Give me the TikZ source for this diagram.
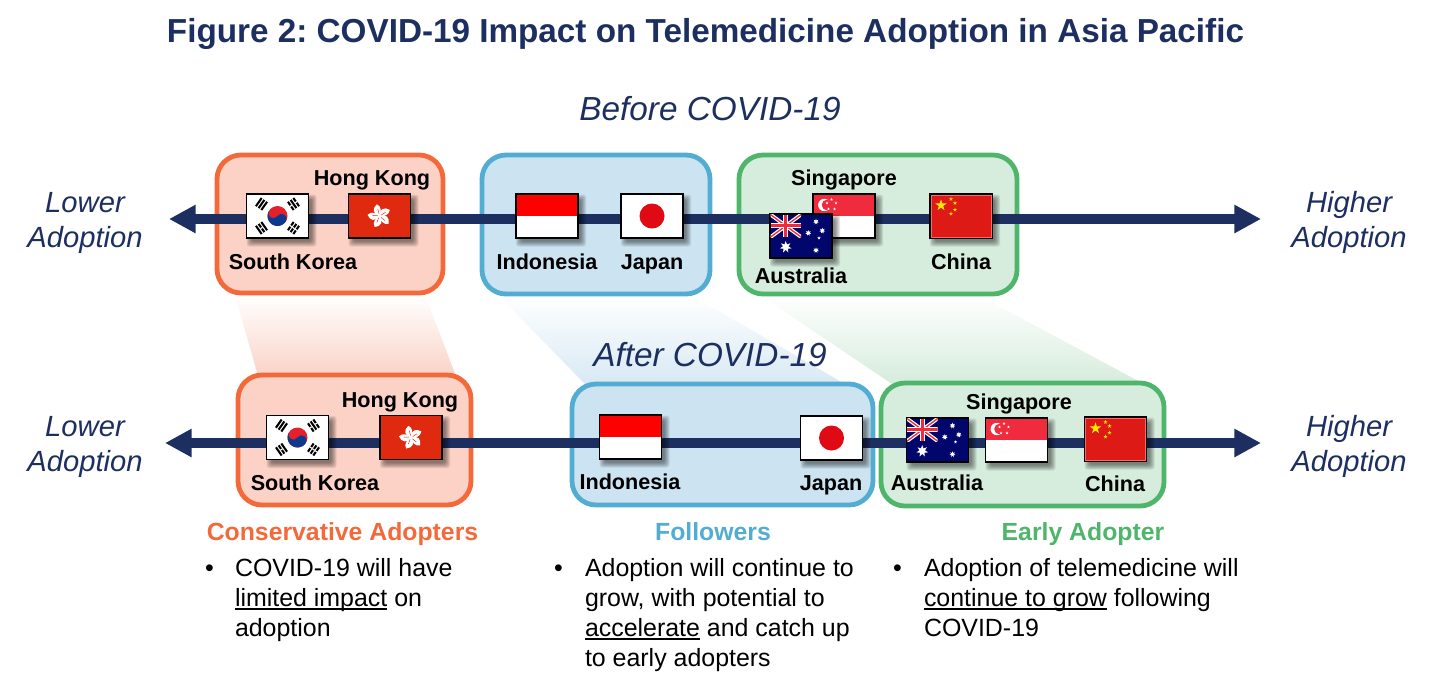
\documentclass[tikz,border=0pt]{standalone}
\usepackage{fontspec}
\setmainfont{Liberation Sans}
\usetikzlibrary{arrows.meta}
\frenchspacing
\definecolor{navy}{HTML}{1C2F60}
\definecolor{orangeB}{HTML}{F4693A}
\definecolor{orangeF}{HTML}{FCD2C6}
\definecolor{orangeG}{HTML}{FAD3C7}
\definecolor{blueB}{HTML}{53ADD2}
\definecolor{blueF}{HTML}{CCE4F1}
\definecolor{blueG}{HTML}{D8E9F4}
\definecolor{greenB}{HTML}{4FB56B}
\definecolor{greenF}{HTML}{D6ECDC}
\definecolor{greenG}{HTML}{D6ECDC}
\definecolor{flagRed}{HTML}{DE1A17}
\definecolor{hkRed}{HTML}{E02A10}
\definecolor{sgRed}{HTML}{EF2B3D}
\definecolor{idRed}{HTML}{FF0000}
\definecolor{jpRed}{HTML}{E00A14}
\definecolor{krRed}{HTML}{E3202C}
\definecolor{krBlue}{HTML}{0B3A8C}
\definecolor{auNavy}{HTML}{00066B}
\definecolor{starYellow}{HTML}{FFE600}
\tikzset{
  x=0.75pt,y=-0.75pt,
  txt/.style={inner sep=0pt,outer sep=0pt,anchor=base,text=black},
  titletxt/.style={txt,text=navy,font=\fontsize{24.95}{30}\selectfont\bfseries},
  periodtxt/.style={txt,text=navy,font=\fontsize{25}{30}\selectfont\itshape},
  axistxt/.style={txt,text=navy,font=\fontsize{21.9}{26}\selectfont\itshape},
  flagtxt/.style={txt,font=\fontsize{16.2}{20}\selectfont\bfseries},
  headtxt/.style={txt,font=\fontsize{18.6}{22}\selectfont\bfseries},
  bodytxt/.style={txt,anchor=base west,font=\fontsize{18.7}{22}\selectfont},
  groupbox/.style={draw,line width=3.6pt,rounded corners=18pt,inner sep=0pt},
  flagframe/.style={draw=black,line width=.85pt,minimum width=46.5pt,minimum height=33pt,inner sep=0pt,outer sep=0pt},
  axisline/.style={navy,line width=6.8pt,{Triangle[length=20pt,width=20pt]}-{Triangle[length=20pt,width=20pt]}},
}
% rule close under the baseline, crossing descenders
\newcommand{\ulined}[1]{\setbox0=\hbox{#1}\rlap{\rule[-2.7pt]{\wd0}{1.3pt}}\box0\relax}
% soft drop shadow under a flag, centred on (#1,#2)
\newcommand{\flagshadow}[2]{%
  \foreach \g in {4,3,2,1,0,-1}{%
    \fill[black,opacity=0.09,rounded corners=2pt] (#1+4-31-\g,#2+4.5-22-\g) rectangle (#1+4+31+\g,#2+4.5+22+\g);
  }%
}
% five pointed star in flag-local coordinates
\newcommand{\fivestar}[4]{%
  \fill[#4,shift={(#1,#2)},scale=#3] (-90:1) -- (-54:.382) -- (-18:1) -- (18:.382) -- (54:1) -- (90:.382) -- (126:1) -- (162:.382) -- (198:1) -- (234:.382) -- cycle;%
}
% seven pointed star of the Australian flag
\newcommand{\sevenstar}[4]{%
  \fill[#4,shift={(#1,#2)},scale=#3] (-90:1) -- (-64.3:.47) -- (-38.6:1) -- (-12.9:.47) -- (12.9:1) -- (38.6:.47) -- (64.3:1) -- (90:.47) -- (115.7:1) -- (141.4:.47) -- (167.1:1) -- (192.9:.47) -- (218.6:1) -- (244.3:.47) -- cycle;%
}
% broken or solid trigram bar
\newcommand{\triBar}[2]{%
  \draw[black,line width=1.55pt] (-5,#1) -- (5,#1);%
  \ifnum#2=1 \draw[white,line width=1.8pt] (-.6,#1) -- (.6,#1);\fi
}
\newcommand{\trigram}[6]{%
  \begin{scope}[shift={(#1,#2)},rotate=#3]
    \triBar{-3.3}{#4}\triBar{0}{#5}\triBar{3.3}{#6}
  \end{scope}%
}
\newcommand{\flagKR}[3]{%
  \flagshadow{#2}{#3}
  \node[flagframe,fill=white] (#1) at (#2,#3) {};
  \begin{scope}[shift={(#1.center)}]
    \fill[krRed] (0,0) circle (10);
    \begin{scope}[rotate=-33.7]
      \fill[krBlue] (-10,0) arc[start angle=180,end angle=0,radius=10]
        arc[start angle=0,end angle=-180,radius=5]
        arc[start angle=0,end angle=180,radius=5] -- cycle;
    \end{scope}
    \trigram{-16}{-12}{55}{0}{0}{0}
    \trigram{16}{-12}{-55}{1}{0}{1}
    \trigram{-16}{12}{-55}{0}{1}{0}
    \trigram{16}{12}{55}{1}{1}{1}
  \end{scope}%
}
\newcommand{\flagHK}[3]{%
  \flagshadow{#2}{#3}
  \node[flagframe,fill=hkRed] (#1) at (#2,#3) {};
  \begin{scope}[shift={(#1.center)}]
    \foreach \a in {0,72,144,216,288}{
      \begin{scope}[rotate=\a+10]
        \fill[white] (0,0) .. controls (-6.5,-3) and (-6,-9) .. (-.5,-12) .. controls (3.5,-9) and (3,-4) .. (0,0);
        \draw[hkRed,line width=.35pt] (0,-2) -- (-.5,-7);
      \end{scope}
    }
  \end{scope}%
}
\newcommand{\flagID}[3]{%
  \flagshadow{#2}{#3}
  \node[flagframe,fill=white] (#1) at (#2,#3) {};
  \begin{scope}[shift={(#1.center)}]
    \fill[idRed] (-30.4,-21.4) rectangle (30.4,0);
  \end{scope}
  \draw[black,line width=.85pt] (#1.south west) rectangle (#1.north east);%
}
\newcommand{\flagJP}[3]{%
  \flagshadow{#2}{#3}
  \node[flagframe,fill=white] (#1) at (#2,#3) {};
  \fill[jpRed] (#1.center) circle (12.5);%
}
\newcommand{\flagSG}[3]{%
  \flagshadow{#2}{#3}
  \node[flagframe,fill=white] (#1) at (#2,#3) {};
  \begin{scope}[shift={(#1.center)}]
    \fill[sgRed] (-30.4,-21.4) rectangle (30.4,0);
    \fill[white] (-19.7,-11) circle (6.2);
    \fill[sgRed] (-17,-11) circle (5.3);
    \fivestar{-12.5}{-16.5}{1.6}{white}
    \fivestar{-8}{-13}{1.6}{white}
    \fivestar{-9.5}{-7}{1.6}{white}
    \fivestar{-15.5}{-7}{1.6}{white}
    \fivestar{-17}{-13}{1.6}{white}
  \end{scope}
  \draw[black,line width=.85pt] (#1.south west) rectangle (#1.north east);%
}
\newcommand{\flagAU}[3]{%
  \flagshadow{#2}{#3}
  \node[flagframe,fill=auNavy] (#1) at (#2,#3) {};
  \begin{scope}[shift={(#1.center)}]
    \begin{scope}
      \clip (-30.4,-21.4) rectangle (0,1);
      \draw[white,line width=2.8pt] (-30.4,-21.4) -- (0,1) (0,-21.4) -- (-30.4,1);
      \draw[sgRed,line width=1pt] (-30.4,-21.4) -- (0,1) (0,-21.4) -- (-30.4,1);
      \draw[white,line width=3.6pt] (-15.2,-21.4) -- (-15.2,1) (-30.4,-10.2) -- (0,-10.2);
      \draw[sgRed,line width=2.1pt] (-15.2,-21.4) -- (-15.2,1) (-30.4,-10.2) -- (0,-10.2);
    \end{scope}
    \sevenstar{-15.3}{11}{6}{white}
    \sevenstar{15}{-14.3}{3}{white}
    \sevenstar{7.3}{-3}{3}{white}
    \sevenstar{21.3}{-5.3}{3}{white}
    \fivestar{18}{2}{1.8}{white}
    \sevenstar{15}{14.3}{3}{white}
  \end{scope}%
}
\newcommand{\flagCN}[3]{%
  \flagshadow{#2}{#3}
  \node[flagframe,fill=flagRed] (#1) at (#2,#3) {};
  \begin{scope}[shift={(#1.center)}]
    \draw[red!60!white,line width=.5pt] (-30,-21) rectangle (30,21);
    \fivestar{-20}{-10.7}{6}{starYellow}
    \fivestar{-10}{-17}{2.2}{starYellow}
    \fivestar{-6}{-13}{2.2}{starYellow}
    \fivestar{-6}{-6.3}{2.2}{starYellow}
    \fivestar{-10}{-2.3}{2.2}{starYellow}
  \end{scope}%
}
\begin{document}
\begin{tikzpicture}
\useasboundingbox (0,0) rectangle (1438,687);

% headings
\node[titletxt] (title) at (705.5,42) {Figure 2: COVID-19 Impact on Telemedicine Adoption in Asia Pacific};
\node[periodtxt] (before) at (710,120) {Before COVID-19};

% gradient bands joining the two rows
\shade[top color=white,bottom color=orangeG] (235,295) -- (425,295) -- (456,376) -- (258,376) -- cycle;
\shade[top color=white,bottom color=blueG] (498,295) -- (691,295) -- (845,384) -- (585,384) -- cycle;
\shade[top color=white,bottom color=greenG] (760,295) -- (978,295) -- (1144,384) -- (892,384) -- cycle;

\node[periodtxt] (after) at (710,366) {After COVID-19};

% group panels
\node[groupbox,draw=orangeB,fill=orangeF,minimum width=169.5pt,minimum height=103.5pt] (boxA) at (330,224) {};
\node[groupbox,draw=blueB,fill=blueF,minimum width=171pt,minimum height=104.25pt] (boxB) at (596,224.5) {};
\node[groupbox,draw=greenB,fill=greenF,minimum width=208.5pt,minimum height=104.25pt] (boxC) at (878,224.5) {};
\node[groupbox,draw=orangeB,fill=orangeF,minimum width=174.75pt,minimum height=97.5pt] (boxD) at (354.5,440) {};
\node[groupbox,draw=blueB,fill=blueF,minimum width=225.75pt,minimum height=90.75pt] (boxE) at (722.5,444.5) {};
\node[groupbox,draw=greenB,fill=greenF,minimum width=212.25pt,minimum height=92.25pt] (boxF) at (1022.5,444.5) {};

% adoption axes
\coordinate (topLeft) at (169,219);
\coordinate (topRight) at (1261,219);
\coordinate (lowLeft) at (165,443);
\coordinate (lowRight) at (1261,443);
\draw[axisline] (topLeft) -- (topRight);
\draw[axisline] (lowLeft) -- (lowRight);

% flags, upper row
\flagKR{krA}{277.5}{216}
\flagHK{hkA}{379.5}{216}
\flagID{idA}{547}{216}
\flagJP{jpA}{652}{216}
\flagSG{sgA}{844}{216}
\flagAU{auA}{801}{236}
\flagCN{cnA}{961}{216}

% flags, lower row
\flagKR{krB}{297.5}{437.5}
\flagHK{hkB}{411}{437.5}
\flagID{idB}{630.5}{437}
\flagJP{jpB}{831.5}{438}
\flagAU{auB}{937.5}{440}
\flagSG{sgB}{1016.5}{440}
\flagCN{cnB}{1115.5}{439}

% country names
\node[flagtxt] (lblHKa) at (372,185) {Hong Kong};
\node[flagtxt] (lblKRa) at (293,269) {South Korea};
\node[flagtxt] (lblIDa) at (547,269) {Indonesia};
\node[flagtxt] (lblJPa) at (652,269) {Japan};
\node[flagtxt] (lblSGa) at (844,185) {Singapore};
\node[flagtxt] (lblAUa) at (801,283) {Australia};
\node[flagtxt] (lblCNa) at (961,269) {China};
\node[flagtxt] (lblHKb) at (400,407) {Hong Kong};
\node[flagtxt] (lblKRb) at (315,490) {South Korea};
\node[flagtxt] (lblIDb) at (630,489) {Indonesia};
\node[flagtxt] (lblJPb) at (831,490) {Japan};
\node[flagtxt] (lblSGb) at (1019,409) {Singapore};
\node[flagtxt] (lblAUb) at (937,490) {Australia};
\node[flagtxt] (lblCNb) at (1115,491) {China};

% axis end captions
\node[axistxt] (lowA1) at (85,212) {Lower};
\node[axistxt] (lowA2) at (85,247) {Adoption};
\node[axistxt] (highA1) at (1349,212) {Higher};
\node[axistxt] (highA2) at (1349,247) {Adoption};
\node[axistxt] (lowB1) at (85,436) {Lower};
\node[axistxt] (lowB2) at (85,471) {Adoption};
\node[axistxt] (highB1) at (1349,436) {Higher};
\node[axistxt] (highB2) at (1349,471) {Adoption};

% group descriptions
\node[headtxt,text=orangeB] (headA) at (342.5,540) {Conservative Adopters};
\node[headtxt,text=blueB] (headB) at (713,540) {Followers};
\node[headtxt,text=greenB] (headC) at (1083,540) {Early Adopter};

\node[bodytxt] (bulA) at (205,576) {•};
\node[bodytxt] (a1) at (235,576) {COVID-19 will have};
\node[bodytxt] (a2) at (235,606) {\ulined{limited impact} on};
\node[bodytxt] (a3) at (235,636) {adoption};

\node[bodytxt] (bulB) at (554,576) {•};
\node[bodytxt] (b1) at (585,576) {Adoption will continue to};
\node[bodytxt] (b2) at (585,606) {grow, with potential to};
\node[bodytxt] (b3) at (585,636) {\ulined{accelerate} and catch up};
\node[bodytxt] (b4) at (585,666) {to early adopters};

\node[bodytxt] (bulC) at (893,576) {•};
\node[bodytxt] (c1) at (924,576) {Adoption of telemedicine will};
\node[bodytxt] (c2) at (924,606) {\ulined{continue to grow} following};
\node[bodytxt] (c3) at (924,636) {COVID-19};
\end{tikzpicture}
\end{document}
